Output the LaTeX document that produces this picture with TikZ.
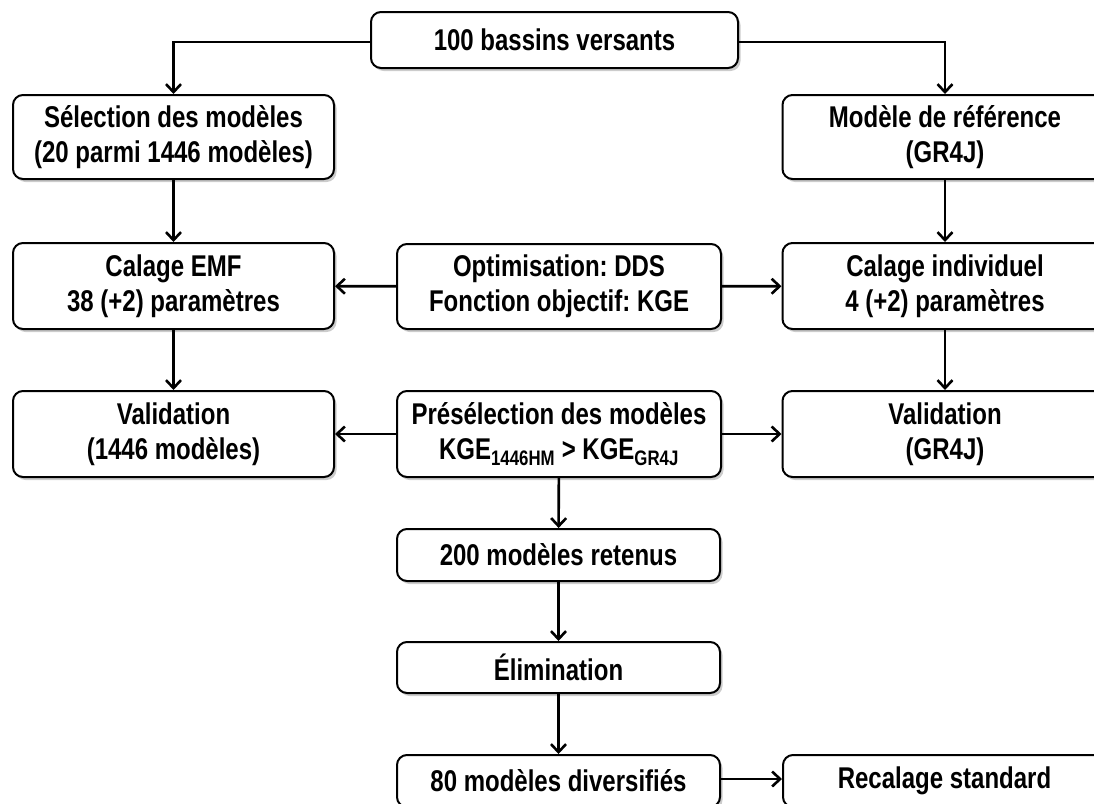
\documentclass[tikz,border=0pt]{standalone}
\usepackage{fontspec}
\setmainfont{Liberation Sans}[FakeStretch=0.8]
\frenchspacing
\usetikzlibrary{arrows.meta,shadows,positioning}

\tikzset{
  box/.style={draw, line width=2pt, rounded corners=10pt, fill=white,
    align=center, inner sep=0pt,
    font=\fontsize{30}{35}\selectfont\bfseries,
    drop shadow={shadow xshift=2.5pt, shadow yshift=-3pt, fill=black!40}},
  link/.style={line width=2.6pt, -{Straight Barb[length=8pt,width=15pt,line width=2.6pt]}}
}

\begin{document}
\begin{tikzpicture}[x=1pt, y=-1pt]
  % Frame of the page
  \useasboundingbox (0,0) rectangle (1094,803);
  \clip (0,0) rectangle (1094,803);
  % Top
  \node[box, minimum width=367pt, minimum height=56pt] (bv) at (554.5,40) {100 bassins versants};
  % Left column
  \node[box, minimum width=321pt, minimum height=84pt] (sel) at (173.5,137) {Sélection des modèles\\(20 parmi 1446 modèles)};
  \node[box, minimum width=321pt, minimum height=86pt] (emf) at (173.5,286) {Calage EMF\\38 (+2) paramètres};
  \node[box, minimum width=321pt, minimum height=86pt] (valemf) at (173.5,434) {Validation\\(1446 modèles)};
  % Right column
  \node[box, minimum width=325pt, minimum height=84pt] (ref) at (945,137) {Modèle de référence\\(GR4J)};
  \node[box, minimum width=325pt, minimum height=86pt] (ind) at (945,286) {Calage individuel\\4 (+2) paramètres};
  \node[box, minimum width=325pt, minimum height=86pt] (valgr) at (945,434) {Validation\\(GR4J)};
  % Middle column
  \node[box, minimum width=324pt, minimum height=85pt] (opt) at (559,286.5) {Optimisation: DDS\\Fonction objectif: KGE};
  \node[box, minimum width=324pt, minimum height=86pt] (pre) at (559,434) {Présélection des modèles\\KGE\textsubscript{1446HM} > KGE\textsubscript{GR4J}};
  \node[box, minimum width=323pt, minimum height=52pt] (ret) at (558.5,555) {200 modèles retenus};
  \node[box, minimum width=323pt, minimum height=51pt] (elim) at (558.5,667.5) {Élimination};
  \node[box, minimum width=323pt, minimum height=52pt] (div) at (558.5,781) {80 modèles diversifiés};
  \node[box, minimum width=323pt, minimum height=52pt] (rec) at (944.5,781) {Recalage standard};
  % Connectors
  \draw[link] ([yshift=-2pt]bv.west) -| (sel.north);
  \draw[link] ([yshift=-2pt]bv.east) -| (ref.north);
  \draw[link] (sel) -- (emf);
  \draw[link] (emf) -- (valemf);
  \draw[link] (ref) -- (ind);
  \draw[link] (ind) -- (valgr);
  \draw[link] (opt) -- (emf);
  \draw[link] (opt) -- (ind);
  \draw[link] (pre) -- (valemf);
  \draw[link] (pre) -- (valgr);
  \draw[link] (pre) -- (ret);
  \draw[link] (ret) -- (elim);
  \draw[link] (elim) -- (div);
  \draw[link] ([yshift=2pt]div.east) -- ([yshift=2pt]rec.west);
\end{tikzpicture}
\end{document}
